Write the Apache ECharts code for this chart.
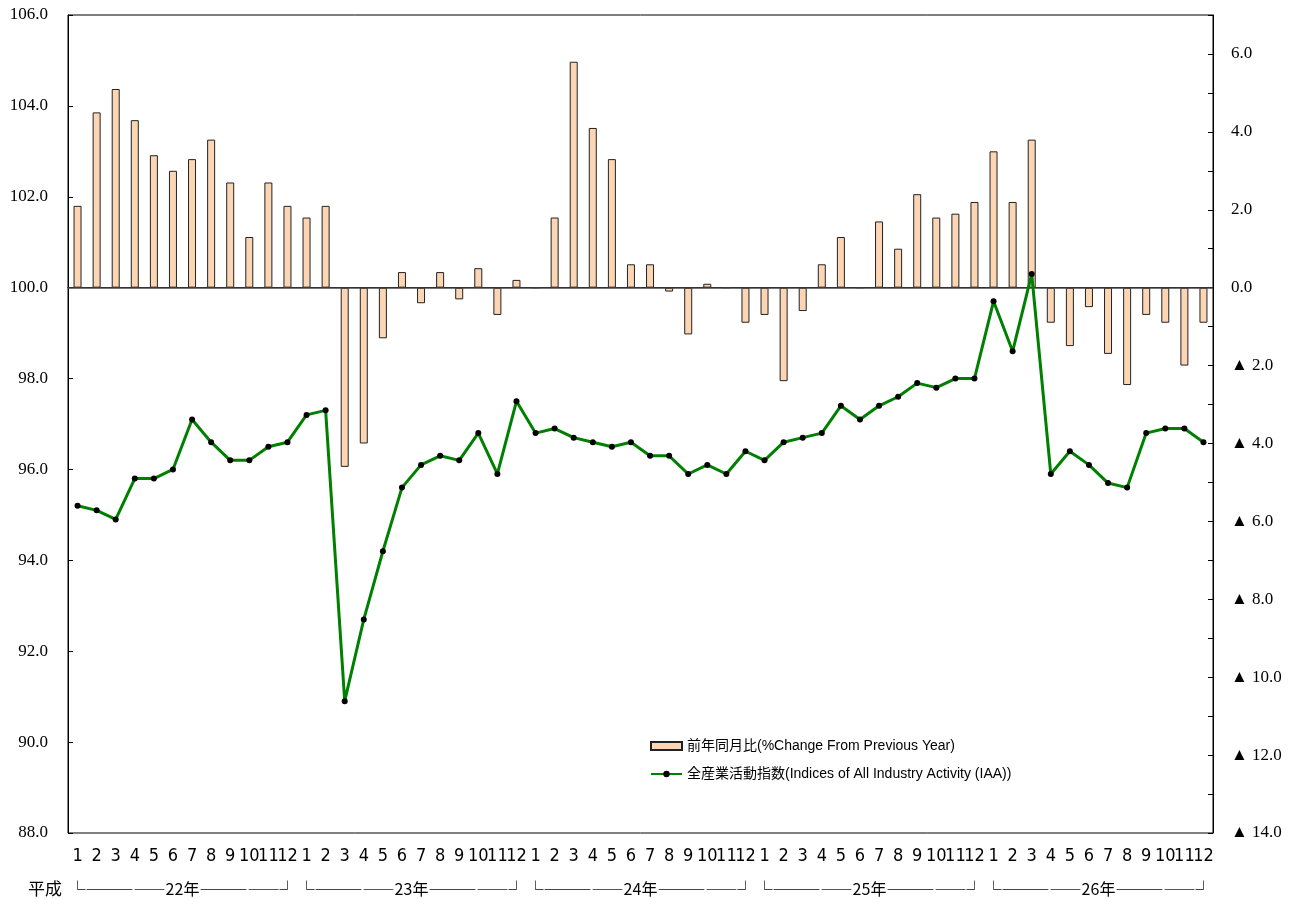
<!DOCTYPE html>
<html>
<head>
<meta charset="utf-8">
<script src="https://cdn.jsdelivr.net/npm/echarts@6/dist/echarts.min.js"></script>
<style>
html,body{margin:0;padding:0;background:#fff;}
#chart{width:1299px;height:899px;}
</style>
</head>
<body>
<div id="chart"></div>
<script>
const months = ['1','2','3','4','5','6','7','8','9','10','11','12'];
const years = ['22年','23年','24年','25年','26年'];
const eraLabel = '平成';
const barName = '前年同月比(%Change From Previous Year)';
const lineName = '全産業活動指数(Indices of All Industry Activity (IAA))';

// 前年同月比 (%), right axis
const yoy = [
  2.1, 4.5, 5.1, 4.3, 3.4, 3.0, 3.3, 3.8, 2.7, 1.3, 2.7, 2.1,
  1.8, 2.1, -4.6, -4.0, -1.3, 0.4, -0.4, 0.4, -0.3, 0.5, -0.7, 0.2,
  0.0, 1.8, 5.8, 4.1, 3.3, 0.6, 0.6, -0.1, -1.2, 0.1, 0.0, -0.9,
  -0.7, -2.4, -0.6, 0.6, 1.3, 0.0, 1.7, 1.0, 2.4, 1.8, 1.9, 2.2,
  3.5, 2.2, 3.8, -0.9, -1.5, -0.5, -1.7, -2.5, -0.7, -0.9, -2.0, -0.9
];
// 全産業活動指数, left axis
const iaa = [
  95.2, 95.1, 94.9, 95.8, 95.8, 96.0, 97.1, 96.6, 96.2, 96.2, 96.5, 96.6,
  97.2, 97.3, 90.9, 92.7, 94.2, 95.6, 96.1, 96.3, 96.2, 96.8, 95.9, 97.5,
  96.8, 96.9, 96.7, 96.6, 96.5, 96.6, 96.3, 96.3, 95.9, 96.1, 95.9, 96.4,
  96.2, 96.6, 96.7, 96.8, 97.4, 97.1, 97.4, 97.6, 97.9, 97.8, 98.0, 98.0,
  99.7, 98.6, 100.3, 95.9, 96.4, 96.1, 95.7, 95.6, 96.8, 96.9, 96.9, 96.6
];

const categories = [];
years.forEach(y => months.forEach(m => categories.push(y + '-' + m)));

const serif = "'Liberation Serif', 'Times New Roman', serif";
const narrow = "'Liberation Sans Narrow', 'DejaVu Sans Condensed', 'Liberation Sans', sans-serif";
const sans = "'Liberation Sans', Arial, 'Noto Sans CJK JP', sans-serif";
const cjk = "'Noto Sans CJK JP', sans-serif";

const chart = echarts.init(document.getElementById('chart'), null, {renderer: 'canvas'});
chart.setOption({
  animation: false,
  backgroundColor: '#fff',
  grid: {left: 68, right: 86, top: 15, bottom: 66, show: true, borderColor: '#000', borderWidth: 1, containLabel: false},
  legend: {
    left: 650, top: 739, orient: 'vertical', itemGap: 14, padding: 0,
    itemWidth: 31, itemHeight: 8,
    textStyle: {fontFamily: sans, fontSize: 14, color: '#000'},
    data: [{name: barName, icon: 'rect'}, {name: lineName}]
  },
  xAxis: [
    {
      type: 'category', data: categories, boundaryGap: true,
      axisLine: {lineStyle: {color: '#000', width: 1}},
      axisTick: {show: false},
      axisLabel: {interval: 0, margin: 14, color: '#000', fontFamily: narrow, fontSize: 18,
        formatter: v => v.split('-')[1]}
    },
    {
      type: 'category', data: years, position: 'bottom', offset: 40, boundaryGap: true,
      axisLine: {show: false}, axisTick: {show: false},
      axisLabel: {interval: 0, margin: 8, color: '#000', fontFamily: cjk, fontSize: 16,
        formatter: v => '└―――――' + v + '―――――┘'}
    }
  ],
  yAxis: [
    {
      type: 'value', min: 88, max: 106, interval: 2, position: 'left',
      axisLine: {show: true, lineStyle: {color: '#000'}},
      axisTick: {show: true, inside: true, length: 5, lineStyle: {color: '#000'}},
      splitLine: {show: false},
      axisLabel: {margin: 20, color: '#000', fontFamily: serif, fontSize: 17, formatter: v => v.toFixed(1)}
    },
    {
      type: 'value', min: -14, max: 7, interval: 1, position: 'right',
      axisLine: {show: true, lineStyle: {color: '#000'}},
      axisTick: {show: true, inside: true, length: 5, lineStyle: {color: '#000'}},
      splitLine: {show: false},
      axisLabel: {margin: 18, color: '#000', fontFamily: serif, fontSize: 17,
        formatter: v => {
          if (Math.abs(v) % 2 === 1) return '';
          if (v < 0) return '▲ ' + (-v).toFixed(1);
          return v.toFixed(1);
        }}
    }
  ],
  series: [
    {
      name: barName, type: 'bar', xAxisIndex: 0, yAxisIndex: 1, data: yoy,
      barWidth: 8,
      itemStyle: {color: '#FCD5B4', borderColor: '#222', borderWidth: 1},
      z: 2,
      markLine: {
        silent: true, symbol: 'none', label: {show: false},
        lineStyle: {color: '#444', width: 1.5, type: 'solid'},
        data: [{yAxis: 0}]
      }
    },
    {
      name: lineName, type: 'line', xAxisIndex: 0, yAxisIndex: 0, data: iaa,
      symbol: 'circle', symbolSize: 6,
      lineStyle: {color: '#008000', width: 3},
      itemStyle: {color: '#000', borderWidth: 0},
      z: 5
    }
  ],
  graphic: [
    {type: 'text', left: 28, top: 880, style: {text: eraLabel, fontSize: 17, fontFamily: cjk, fill: '#000'}}
  ]
});
</script>
</body>
</html>
